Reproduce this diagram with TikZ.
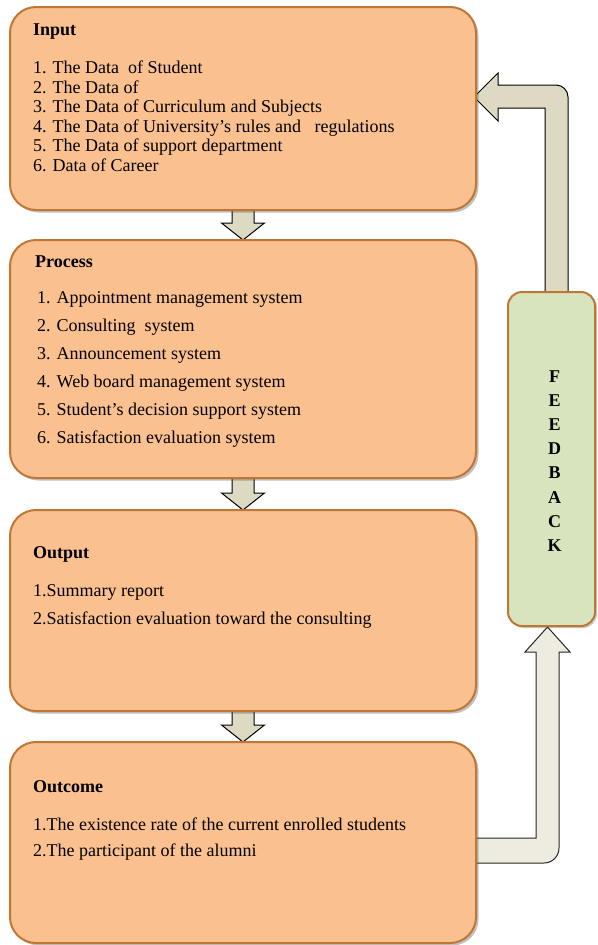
\documentclass[tikz,border=0pt]{standalone}
\usepackage{fontspec}
\setmainfont{Liberation Serif}
\usetikzlibrary{calc,shadows}
\definecolor{peach}{RGB}{250,192,144}
\definecolor{boxedge}{RGB}{192,118,52}
\definecolor{fbgreen}{RGB}{215,228,189}
\definecolor{arrowtan}{RGB}{221,217,195}
\definecolor{arrowcream}{RGB}{238,236,225}
\pgfdeclarelayer{bg}
\pgfsetlayers{bg,main}
\tikzset{
  stagebox/.style={draw=boxedge, line width=2pt, fill=peach, rounded corners=26pt,
    minimum width=466pt, inner sep=0pt, outer sep=0pt,
    drop shadow={shadow xshift=2.5pt, shadow yshift=-2.5pt, opacity=0.35, fill=black!70}},
  fbbox/.style={draw=boxedge, line width=2pt, fill=fbgreen, rounded corners=14pt,
    minimum width=87pt, minimum height=334pt, inner sep=0pt, outer sep=0pt,
    drop shadow={shadow xshift=2pt, shadow yshift=-2pt, opacity=0.3, fill=black!70}},
  heading/.style={anchor=base west, inner sep=0pt, font=\fontsize{18}{20}\selectfont\bfseries},
  itemtext/.style={anchor=base west, inner sep=0pt, font=\fontsize{18}{20}\selectfont},
  tanarrow/.style={draw=black, line width=1pt, fill=arrowtan, line join=miter},
  creamarrow/.style={draw=black!85, line width=1pt, fill=arrowcream, line join=miter},
}
\begin{document}
\begin{tikzpicture}[x=1pt, y=-1pt]
\useasboundingbox (0,0) rectangle (597,945);

% boxes
\node[stagebox, minimum height=203pt] (input) at (243,108.5) {};
\node[stagebox, minimum height=238pt] (process) at (243,359) {};
\node[stagebox, minimum height=201pt] (output) at (243,610.5) {};
\node[stagebox, minimum height=201pt] (outcome) at (243,842.5) {};
\node[fbbox] (fb) at (551.5,459) {};

% texts
\node[heading] (inhead) at (33,35) {Input};
\foreach \t [count=\i] in {1. The Data\ \ of Student, 2. The Data of,
  3. The Data of Curriculum and Subjects,
  4. The Data of University’s rules and\ \ \ regulations,
  5. The Data of support department, 6. Data of Career}
  \node[itemtext] (in\i) at (33,{73.5+19.6*(\i-1)}) {\t};

\node[heading] (prhead) at (35,267) {Process};
\foreach \t [count=\i] in {1. Appointment management system, 2. Consulting\ \ system,
  3. Announcement system, 4. Web board management system,
  5. Student’s decision support system, 6. Satisfaction evaluation system}
  \node[itemtext] (pr\i) at (37,{303+28*(\i-1)}) {\t};

\node[heading] (outhead) at (33,558) {Output};
\node[itemtext] (out1) at (33,596) {1.Summary report};
\node[itemtext] (out2) at (33,624) {2.Satisfaction evaluation toward the consulting};

\node[heading] (ochead) at (33,792) {Outcome};
\node[itemtext] (oc1) at (33,830) {1.The existence rate of the current enrolled students};
\node[itemtext] (oc2) at (33,856) {2.The participant of the alumni};

\node[inner sep=0pt, align=center, font=\fontsize{18}{24.1}\selectfont\bfseries] (fbtext) at (554.5,461)
  {F\\E\\E\\D\\B\\A\\C\\K};

% arrows (behind the boxes)
\begin{pgfonlayer}{bg}
\foreach \a/\b in {input/process, process/output, output/outcome}{
  \draw[tanarrow] ($(\a.south)+(-11,-6)$) -- ($(\a.south)+(11,-6)$)
    -- ($(\b.north)+(11,-17)$) -- ($(\b.north)+(21.5,-17)$) -- (\b.north)
    -- ($(\b.north)+(-21.5,-17)$) -- ($(\b.north)+(-11,-17)$) -- cycle;
}
% feedback arrow to input
\coordinate (fbtip) at (474,97);
\draw[tanarrow] (545,298) -- (545,108) -- (498,108) -- (498,121) -- (fbtip)
  -- (498,73) -- (498,85) -- (556,85) .. controls (562.6,85) and (568,90.4) .. (568,97)
  -- (568,298) -- cycle;
% outcome arrow to feedback
\coordinate (octip) at (547.5,627);
\draw[creamarrow] (470,838) -- (536,838) -- (536,652) -- (525,652) -- (octip)
  -- (570,652) -- (559,652) -- (559,848) .. controls (559,856.3) and (552.3,863) .. (544,863)
  -- (470,863) -- cycle;
\end{pgfonlayer}
\end{tikzpicture}
\end{document}
